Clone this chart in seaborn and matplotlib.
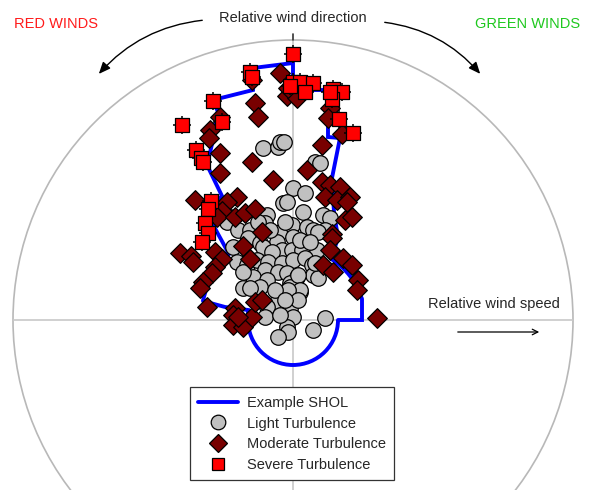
import numpy as np
import pandas as pd
import matplotlib.pyplot as plt
import seaborn as sns
from matplotlib.patches import Arc, Circle
from matplotlib.lines import Line2D

# relative wind components (0.1 kt units): x = crosswind, y = headwind
light_x = [-30, -15, -13, -9, 22, 27, 0, 12, -10, 10, 30, 37, -6, -63, -66, -55, -43, -45,
           -26, -28, -13, -1, 14, 20, 32, 25, 0, -16, -60, -33, -30, -11, -1, 9, -21, 24,
           -56, -46, -36, -25, -11, 0, 12, 19, -28, -15, -6, 4, -40, 20, 25, -26, -33, -50,
           -43, -3, -3, 7, -16, -26, -3, 0, -28, -6, -5, -15, 20, 32, 5, 7, -5, 22, -50,
           -23, -35, -8, 7, 17, -18, 5, -8, -13]
light_y = [172, 173, 178, 178, 158, 157, 132, 127, 117, 108, 105, 102, 118, 103, 98, 90, 90, 82,
           105, 97, 88, 95, 93, 90, 90, 88, 83, 78, 73, 77, 73, 70, 70, 70, 68, 70,
           58, 55, 60, 58, 57, 60, 62, 55, 50, 48, 47, 43, 43, 45, 42, 40, 33, 32,
           32, 37, 33, 28, 18, 13, 12, 3, 3, -7, -12, -17, -10, 2, 45, 30, 30, 57, 48,
           90, 98, 98, 80, 78, 30, 20, 20, 5]

moderate_x = [-13, -41, -38, -35, -6, 4, -5, 37, 35, 49, -73, -83, -84, -73, -73, -41, -20,
              29, 14, 29, 37, 47, 32, 44, 57, 54, 52, 59, 39, 39, 37, 30, 40, 50, 59, 65, 64,
              84, -98, -56, -66, -71, -76, -58, -48, -38, -31, -50, -43, -113, -102, -100,
              -78, -71, -78, -81, -90, -93, -86, -58, -60, -60, -50, -41, -38, -31, -55]
moderate_y = [247, 240, 217, 203, 224, 222, 232, 212, 202, 186, 203, 190, 182, 167, 147, 158, 140,
              175, 150, 138, 135, 133, 123, 120, 123, 118, 100, 103, 86, 82, 70, 55, 48, 62, 55, 40, 30,
              2, 120, 123, 118, 109, 103, 103, 107, 111, 88, 74, 61, 67, 64, 58,
              68, 61, 53, 47, 38, 32, 13, 12, 5, -5, -7, 3, 18, 20, 3]

severe_x = [0, -43, -41, -80, -71, -111, 0, 7, 20, 12, 40, 49, 39, 46, 60, -97, -92, -90,
            -82, -85, -88, -85, -91, -3, 37]
severe_y = [266, 248, 243, 219, 198, 195, 238, 238, 237, 228, 231, 228, 221, 201, 187, 170, 162, 158,
            119, 111, 97, 87, 78, 234, 228]

# example SHOL envelope: straight pieces plus circular pieces (radius, start angle, end angle)
shol_right_x = [69, 69, 45]
shol_right_y = [21, 0, 0]
shol_left_x = [-45, -45, -68, -90]
shol_left_y = [0, 10, 13, 19]
shol_top_x = [-64, -87, -71, -86, -80, -75, -80, -40, -40, 0, 0, 35, 35, 47, 39, 41, 45, 38]
shol_top_y = [66, 108, 124, 155, 180, 208, 220, 230, 252, 257, 230, 230, 183, 182, 142, 108, 82, 61]
shol_arcs = [(45, 180, 360), (92, 134, 168), (72, 17, 58)]

outer_r = 280

light = pd.DataFrame({'x': light_x, 'y': light_y})
moderate = pd.DataFrame({'x': moderate_x, 'y': moderate_y})
severe = pd.DataFrame({'x': severe_x, 'y': severe_y})

sns.set_style('white')
plt.rcParams['font.family'] = ['Liberation Sans', 'DejaVu Sans']

fig = plt.figure(figsize=(5.91, 4.90), dpi=100)
ax = fig.add_axes([0, 0, 1, 1])
ax.set_xlim(-293, 298)
ax.set_ylim(-170, 320)
ax.set_aspect('equal')
ax.axis('off')

# frame: outer circle and axes
grid = '#c8c8c8'
ax.add_patch(Circle((0, 0), outer_r, fill=False, ec='#b8b8b8', lw=1.2, zorder=1))
ax.plot([-outer_r, outer_r], [0, 0], color=grid, lw=1.2, zorder=1)
ax.plot([0, 0], [-170, outer_r], color=grid, lw=1.2, zorder=1)
ax.plot([0, 0], [outer_r, outer_r + 6], color='#333333', lw=1.2, zorder=1)

# SHOL
blue = '#0000ff'
for xs, ys in [(shol_right_x, shol_right_y), (shol_left_x, shol_left_y), (shol_top_x, shol_top_y)]:
    ax.plot(xs, ys, color=blue, lw=2.8, zorder=2, solid_joinstyle='miter')
for r, t1, t2 in shol_arcs:
    ax.add_patch(Arc((0, 0), 2 * r, 2 * r, theta1=t1, theta2=t2, color=blue, lw=2.8, zorder=2))

# reports
sns.scatterplot(data=light, x='x', y='y', marker='o', s=125, color='#c0c0c0',
                edgecolor='black', linewidth=0.9, ax=ax, zorder=3)
sns.scatterplot(data=moderate, x='x', y='y', marker='D', s=100, color='#780000',
                edgecolor='black', linewidth=0.9, ax=ax, zorder=4)
sns.scatterplot(data=severe, x='x', y='y', marker='+', s=160, color='black',
                linewidth=1.1, ax=ax, zorder=5)
sns.scatterplot(data=severe, x='x', y='y', marker='s', s=110, color='#ff0000',
                edgecolor='black', linewidth=0.9, ax=ax, zorder=6)
ax.set_xlim(-293, 298)
ax.set_ylim(-170, 320)
ax.set_xlabel('')
ax.set_ylabel('')

# annotations
ax.text(0, 302, 'Relative wind direction', ha='center', va='center', fontsize=10.5)
ax.text(-279, 296, 'RED WINDS', ha='left', va='center', fontsize=10.5, color='#ff1a1a')
ax.text(287, 296, 'GREEN WINDS', ha='right', va='center', fontsize=10.5, color='#1ec81e')
ax.text(135, 16, 'Relative wind speed', ha='left', va='center', fontsize=10.5)
ax.annotate('', xy=(249, -12), xytext=(162, -12),
            arrowprops=dict(arrowstyle='->', color='black', lw=0.9))
ax.annotate('', xy=(-196, 244), xytext=(-88, 300),
            arrowprops=dict(arrowstyle='-|>,head_length=0.7,head_width=0.3', color='black',
                            lw=1.0, connectionstyle='arc3,rad=0.2'))
ax.annotate('', xy=(189, 244), xytext=(89, 298),
            arrowprops=dict(arrowstyle='-|>,head_length=0.7,head_width=0.3', color='black',
                            lw=1.0, connectionstyle='arc3,rad=-0.2'))

handles = [
    Line2D([], [], color=blue, lw=2.8),
    Line2D([], [], ls='', marker='o', ms=10.5, mfc='#c0c0c0', mec='black', mew=0.9),
    Line2D([], [], ls='', marker='D', ms=9, mfc='#780000', mec='black', mew=0.9),
    Line2D([], [], ls='', marker='s', ms=9, mfc='#ff0000', mec='black', mew=0.9),
]
labels = ['Example SHOL', 'Light Turbulence', 'Moderate Turbulence', 'Severe Turbulence']
leg = ax.legend(handles, labels, loc='upper center', bbox_to_anchor=(0.494, 0.2245),
                bbox_transform=fig.transFigure, fontsize=10.5, handlelength=2.7,
                fancybox=False, framealpha=1, edgecolor='#333333', borderpad=0.6,
                labelspacing=0.45, handletextpad=0.6)
leg.get_frame().set_linewidth(0.9)

fig.savefig('out.png', dpi=100)
